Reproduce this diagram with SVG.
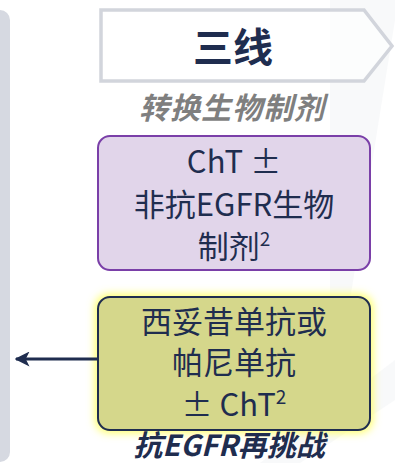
<svg xmlns="http://www.w3.org/2000/svg" width="395" height="463" viewBox="0 0 395 463">
<defs>
<style>
.cjk{font-family:"Noto Sans CJK SC","Noto Sans",sans-serif;}
.box-text{font-size:31px;fill:#1f2d4f;text-anchor:middle;font-weight:400;}
.sup{font-size:19px;}
</style>
<filter id="glow" x="-20%" y="-20%" width="140%" height="140%">
<feGaussianBlur stdDeviation="4"/>
</filter>
<marker id="arr" viewBox="0 0 10 10" refX="9" refY="5" markerWidth="5" markerHeight="5" orient="auto-start-reverse" markerUnits="strokeWidth">
<path d="M0,0 L10,5 L0,10 L2.5,5 Z" fill="#1f2d4f"/>
</marker>
</defs>
<rect width="395" height="463" fill="#ffffff"/>
<g id="watermark" fill="#f4f5f7">
<path d="M330,0 L395,0 L395,20 L350,300 L330,300 Z" opacity="0.6"/>
<path d="M260,463 L395,360 L395,400 L300,463 Z" opacity="0.6"/>
</g>
<g id="left-panel">
<rect x="-20" y="10" width="30" height="452" rx="10" fill="#d6d9e1"/>
</g>
<g id="header">
<polygon points="101,10 364,10 392,46 364,81 101,81" fill="#ffffff" fill-opacity="0.6" stroke="#d2d5dc" stroke-width="3.5"/>
<text class="cjk" x="233" y="62" font-size="40" font-weight="700" fill="#1f2d4f" text-anchor="middle">三线</text>
</g>
<g id="label-switch">
<text class="cjk" x="232" y="119" font-size="30" font-weight="700" font-style="italic" fill="#7f7f7f" text-anchor="middle" letter-spacing="1">转换生物制剂</text>
</g>
<g id="node-purple">
<rect x="98" y="136" width="272" height="134" rx="12" fill="#e1d5ea" stroke="#7a3fa8" stroke-width="2"/>
<text class="cjk box-text" x="234" y="173">ChT ±</text>
<text class="cjk box-text" x="234" y="216">非抗EGFR生物</text>
<text class="cjk box-text" x="234" y="258">制剂<tspan class="sup" dy="-12">2</tspan></text>
</g>
<g id="node-yellow">
<rect x="95" y="294" width="278" height="139" rx="14" fill="#ffff66" filter="url(#glow)"/>
<rect x="98" y="297" width="272" height="133" rx="12" fill="#d5d78b" stroke="#1f2d4f" stroke-width="2"/>
<text class="cjk box-text" x="234" y="333">西妥昔单抗或</text>
<text class="cjk box-text" x="234" y="374">帕尼单抗</text>
<text class="cjk box-text" x="234" y="416">± ChT<tspan class="sup" dy="-12">2</tspan></text>
</g>
<g id="label-rechallenge">
<text class="cjk" x="229" y="456" font-size="29" font-weight="700" font-style="italic" fill="#1f2d4f" text-anchor="middle">抗EGFR再挑战</text>
</g>
<g id="connectors">
<line x1="98" y1="359" x2="16" y2="359" stroke="#1f2d4f" stroke-width="3" marker-end="url(#arr)"/>
</g>
</svg>
